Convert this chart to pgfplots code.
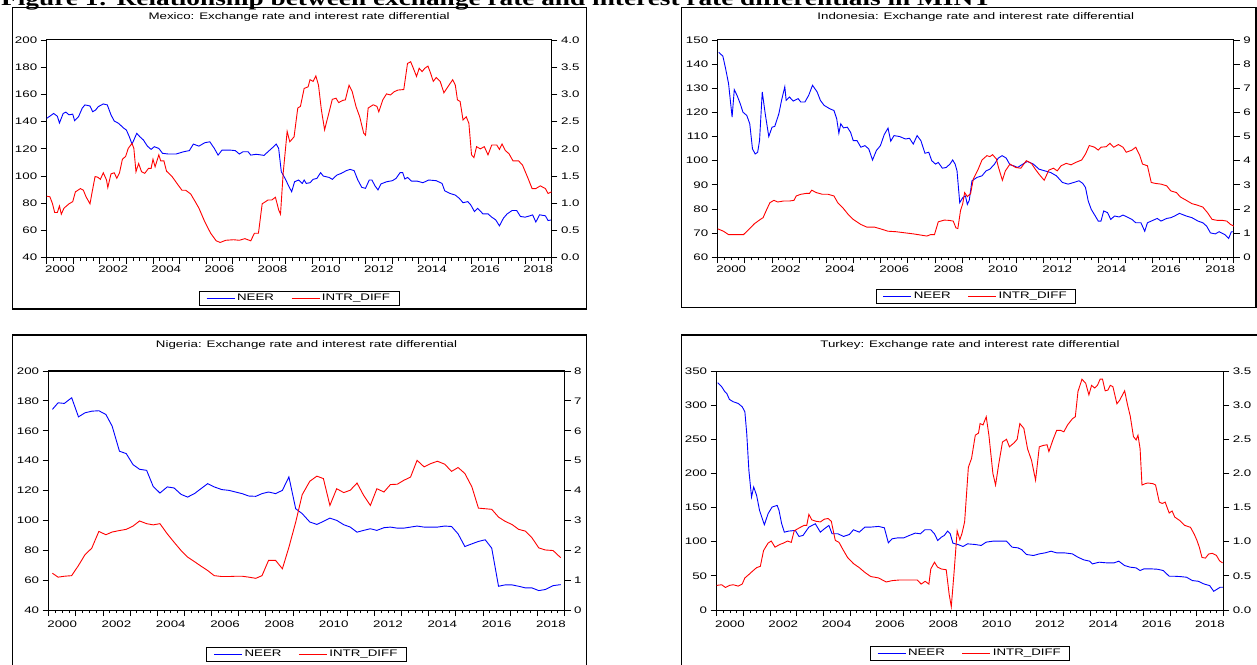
\documentclass[border=0pt]{standalone}
\usepackage{fontspec}
\setmainfont{Liberation Sans}[FakeStretch=1.4]
\newfontfamily\headfont{Liberation Serif}[FakeStretch=1.3]
\usepackage{pgfplots}
\pgfplotsset{compat=1.18}
\newcommand{\cf}{\fontsize{9.5}{11}\selectfont}
\pgfplotsset{
  evbase/.style={scale only axis, xmin=2000, xmax=2019, tick align=outside,
    axis line style={line width=1pt},
    every tick/.style={black, line width=0.8pt},
    major tick length=6pt, minor tick length=3pt,
    /pgf/number format/assume math mode=true,
    /pgf/number format/1000 sep={},
    ticklabel style={font=\cf}},
  evleft/.style={evbase, ytick pos=left, xtick pos=left,
    xtick={2000,2001,...,2019}, xticklabels={{},{},{},{},{},{},{},{},{},{},{},{},{},{},{},{},{},{},{},{}},
    minor xtick={2000,2000.25,...,2019},
    extra x ticks={2000.5,2002.5,2004.5,2006.5,2008.5,2010.5,2012.5,2014.5,2016.5,2018.5},
    extra x tick labels={2000,2002,2004,2006,2008,2010,2012,2014,2016,2018},
    extra x tick style={major tick length=0pt},
    title style={font=\cf, anchor=center, at={(0.5,1)}},
    legend style={font=\cf, anchor=north, legend columns=2, draw=black, line width=0.8pt,
      inner xsep=7pt, inner ysep=1pt,
      /tikz/every even column/.append style={column sep=15pt}},
    legend image code/.code={\draw[#1] (0pt,0pt) -- (28pt,0pt);}},
  evright/.style={evbase, axis y line*=right, axis x line=none, ytick pos=right},
  one/.style={/pgf/number format/.cd, fixed, fixed zerofill, precision=1}
}
\begin{document}
\begin{tikzpicture}
\useasboundingbox (0,0) rectangle (1257pt,664pt);
\node[anchor=base west, inner sep=0pt, font=\headfont\bfseries\fontsize{21}{24}\selectfont] at (1pt,658pt)
  {Figure 1: Relationship between exchange rate and interest rate differentials in MINT};
\draw[line width=1.1pt] (12.6pt,355pt) rectangle (586.7pt,656.7pt);
\draw[line width=1.1pt] (681.7pt,356.7pt) rectangle (1256pt,656.7pt);
\draw[line width=1.1pt] (12.6pt,-10pt) rectangle (586.7pt,329pt);
\draw[line width=1.1pt] (681.7pt,-10pt) rectangle (1270pt,329pt);

% ---------------- Mexico
\begin{axis}[evleft, at={(46.7pt,406.3pt)}, anchor=south west, width=504.8pt, height=217.7pt,
  ymin=40, ymax=200, ytick={40,60,...,200},
  title={Mexico: Exchange rate and interest rate differential}, title style={yshift=17.3pt},
  xticklabel style={yshift=-5pt},
  legend style={at={(0.5,-0.152)}}]
\addplot[blue, line width=0.9pt] coordinates {(2000.00,142.4)(2000.19,145)(2000.26,146)(2000.40,144)(2000.48,139)(2000.62,146)(2000.72,147)(2000.84,145)(2000.98,145.5)(2001.05,140.7)(2001.20,143.7)(2001.34,150)(2001.44,152.3)(2001.63,151.5)(2001.73,147.3)(2001.84,148.5)(2001.94,151)(2002.13,153)(2002.28,152.3)(2002.42,145)(2002.54,140.5)(2002.71,138.7)(2002.88,135.5)(2003.00,133.8)(2003.11,128.9)(2003.21,123.5)(2003.28,126.5)(2003.39,131.4)(2003.50,129)(2003.64,126.5)(2003.79,122)(2003.93,119.6)(2004.05,121.6)(2004.22,120.3)(2004.36,116.7)(2004.58,116.2)(2004.87,116.2)(2005.16,117.9)(2005.37,118.7)(2005.52,123.5)(2005.73,122)(2005.95,124.5)(2006.14,125.2)(2006.31,120.3)(2006.45,115.4)(2006.60,119.1)(2006.89,119.1)(2007.10,118.7)(2007.25,116.2)(2007.39,117.9)(2007.58,117.9)(2007.68,115.4)(2007.89,116)(2008.18,115.2)(2008.33,117.9)(2008.54,121.6)(2008.64,123.5)(2008.73,120.3)(2008.83,103.2)(2008.97,98.3)(2009.12,92.2)(2009.22,88.5)(2009.33,95.8)(2009.48,97.1)(2009.62,94.6)(2009.69,97.1)(2009.77,94.6)(2009.91,95.1)(2010.03,97.6)(2010.17,98.3)(2010.31,102.5)(2010.41,100)(2010.63,99)(2010.75,97.6)(2010.92,100.7)(2011.09,102)(2011.28,104)(2011.42,104.9)(2011.57,104)(2011.71,97.1)(2011.86,91.7)(2012.00,91)(2012.14,97.1)(2012.24,97.1)(2012.36,92.7)(2012.47,89.8)(2012.58,94.2)(2012.79,95.8)(2013.01,96.6)(2013.15,98.3)(2013.30,102.5)(2013.40,102.5)(2013.48,97.8)(2013.58,99)(2013.73,96.3)(2013.94,96.3)(2014.16,95.1)(2014.38,97.1)(2014.66,96.6)(2014.88,94.6)(2014.98,89.2)(2015.17,87.3)(2015.38,86)(2015.53,83.6)(2015.67,80.4)(2015.85,81.2)(2015.96,78.8)(2016.10,73.9)(2016.22,76.3)(2016.42,72.2)(2016.61,72.2)(2016.75,69.8)(2016.90,67.8)(2017.04,63.4)(2017.19,69)(2017.33,72.2)(2017.52,74.7)(2017.69,74.7)(2017.83,70.3)(2018.01,69.8)(2018.19,70.8)(2018.29,71.5)(2018.41,66.2)(2018.55,71.5)(2018.77,70.8)(2018.87,67.3)(2019.00,67.8)};
\addlegendentry{NEER}
\addlegendimage{red, line width=0.9pt}\addlegendentry{INTR\_DIFF}
\end{axis}
\begin{axis}[evright, at={(46.7pt,406.3pt)}, anchor=south west, width=504.8pt, height=217.7pt,
  ymin=0, ymax=4, ytick={0,0.5,...,4}, yticklabel style={one}]
\addplot[red, line width=0.9pt] coordinates {(2000.00,1.13)(2000.12,1.12)(2000.22,0.99)(2000.30,0.83)(2000.40,0.83)(2000.48,0.95)(2000.55,0.80)(2000.65,0.91)(2000.84,0.99)(2000.98,1.03)(2001.08,1.21)(2001.27,1.27)(2001.38,1.24)(2001.48,1.12)(2001.63,0.99)(2001.70,1.18)(2001.82,1.49)(2001.92,1.48)(2002.02,1.44)(2002.13,1.56)(2002.25,1.43)(2002.30,1.29)(2002.42,1.54)(2002.54,1.56)(2002.64,1.46)(2002.74,1.56)(2002.85,1.81)(2002.97,1.86)(2003.07,2.01)(2003.21,2.10)(2003.28,2.01)(2003.36,1.58)(2003.46,1.73)(2003.57,1.58)(2003.69,1.55)(2003.83,1.64)(2003.93,1.64)(2004.00,1.81)(2004.08,1.67)(2004.22,1.89)(2004.29,1.78)(2004.41,1.78)(2004.51,1.59)(2004.72,1.49)(2004.94,1.34)(2005.09,1.24)(2005.23,1.24)(2005.42,1.17)(2005.59,1.03)(2005.73,0.91)(2005.95,0.66)(2006.17,0.45)(2006.38,0.31)(2006.53,0.28)(2006.74,0.32)(2007.03,0.33)(2007.25,0.32)(2007.46,0.35)(2007.68,0.31)(2007.82,0.45)(2007.97,0.45)(2008.11,0.99)(2008.33,1.06)(2008.47,1.06)(2008.61,1.11)(2008.73,0.88)(2008.80,0.80)(2008.90,1.55)(2009.05,2.32)(2009.15,2.13)(2009.31,2.22)(2009.45,2.75)(2009.55,2.78)(2009.69,3.11)(2009.84,3.14)(2009.91,3.27)(2010.03,3.24)(2010.13,3.34)(2010.23,3.17)(2010.34,2.71)(2010.46,2.35)(2010.60,2.62)(2010.75,2.91)(2010.89,2.93)(2010.99,2.85)(2011.14,2.89)(2011.24,2.90)(2011.38,3.17)(2011.50,3.05)(2011.64,2.78)(2011.78,2.59)(2011.93,2.29)(2012.00,2.25)(2012.10,2.75)(2012.29,2.81)(2012.43,2.78)(2012.50,2.68)(2012.65,2.90)(2012.79,3.01)(2012.94,2.99)(2013.08,3.05)(2013.22,3.08)(2013.44,3.09)(2013.58,3.57)(2013.70,3.60)(2013.80,3.48)(2013.92,3.33)(2014.02,3.48)(2014.13,3.42)(2014.23,3.48)(2014.35,3.52)(2014.45,3.39)(2014.55,3.24)(2014.66,3.31)(2014.81,3.24)(2014.95,3.03)(2015.10,3.14)(2015.28,3.27)(2015.38,3.17)(2015.46,2.90)(2015.56,2.87)(2015.67,2.53)(2015.79,2.59)(2015.89,2.47)(2015.99,1.89)(2016.08,1.84)(2016.18,2.04)(2016.32,2.00)(2016.47,2.04)(2016.61,1.89)(2016.75,2.07)(2016.94,2.07)(2017.04,1.99)(2017.14,2.09)(2017.26,1.97)(2017.40,1.91)(2017.55,1.78)(2017.76,1.78)(2017.91,1.70)(2018.09,1.49)(2018.27,1.27)(2018.41,1.27)(2018.58,1.32)(2018.77,1.27)(2018.87,1.18)(2019.00,1.21)};
\end{axis}

% ---------------- Indonesia
\begin{axis}[evleft, at={(717.7pt,406.7pt)}, anchor=south west, width=516.1pt, height=217.3pt,
  ymin=60, ymax=150, ytick={60,70,...,150},
  title={Indonesia: Exchange rate and interest rate differential}, title style={yshift=17.3pt},
  xticklabel style={yshift=-5pt},
  legend style={at={(0.5,-0.146)}}]
\addplot[blue, line width=0.9pt] coordinates {(2000.04,144.9)(2000.19,143.3)(2000.29,138.2)(2000.40,131.9)(2000.53,118.1)(2000.61,129.4)(2000.71,127.1)(2000.83,123.6)(2000.93,120.1)(2001.07,118.75)(2001.18,115.3)(2001.28,104.9)(2001.38,102.8)(2001.47,103.5)(2001.54,108.3)(2001.64,128.5)(2001.75,119.4)(2001.88,110)(2002.00,113.9)(2002.10,114.2)(2002.25,119.4)(2002.35,125)(2002.47,130.6)(2002.52,125)(2002.64,126.4)(2002.78,124.7)(2002.96,125.7)(2003.06,124.3)(2003.21,124.3)(2003.35,127.1)(2003.49,131.25)(2003.66,128.5)(2003.78,125)(2003.92,122.9)(2004.13,121.5)(2004.28,120.8)(2004.38,117.4)(2004.46,111.4)(2004.53,115.3)(2004.63,113.6)(2004.77,113.9)(2004.89,111.8)(2004.99,108.3)(2005.13,108.3)(2005.27,105.6)(2005.42,106.25)(2005.56,104.9)(2005.70,100.3)(2005.84,104.2)(2005.99,106.25)(2006.13,110.8)(2006.27,113.5)(2006.37,108.1)(2006.49,110.4)(2006.70,110)(2006.91,109)(2007.06,109.3)(2007.20,106.9)(2007.34,110.4)(2007.48,108.3)(2007.63,103.1)(2007.77,103.5)(2007.88,100)(2008.02,98.6)(2008.12,99.3)(2008.27,96.9)(2008.41,97.2)(2008.55,98.6)(2008.65,100.3)(2008.74,98.6)(2008.81,95.8)(2008.91,82.6)(2009.02,84.7)(2009.12,85.4)(2009.19,81.9)(2009.26,83.6)(2009.36,91.7)(2009.55,93.1)(2009.73,93.75)(2009.88,95.8)(2010.02,96.5)(2010.19,98.6)(2010.33,101.1)(2010.47,102.1)(2010.62,101.1)(2010.76,98.3)(2010.90,97.9)(2011.04,97.2)(2011.19,98.3)(2011.40,99.7)(2011.62,98.6)(2011.83,96.5)(2012.04,95.8)(2012.26,95.1)(2012.47,93.75)(2012.69,91)(2012.90,90.3)(2013.11,91)(2013.30,91.7)(2013.44,90.6)(2013.54,88.9)(2013.64,83.3)(2013.75,79.9)(2013.90,77.1)(2014.01,75)(2014.11,75)(2014.21,79.2)(2014.35,78.5)(2014.47,75.7)(2014.61,77.1)(2014.78,76.7)(2014.92,77.5)(2015.07,76.7)(2015.25,75.7)(2015.39,74.3)(2015.58,74.3)(2015.72,70.8)(2015.82,74.3)(2015.96,75)(2016.18,76.1)(2016.32,75)(2016.53,76.1)(2016.68,76.4)(2016.82,77.1)(2017.00,78.2)(2017.25,77.1)(2017.46,76.4)(2017.68,75)(2017.86,74.3)(2018.00,72.9)(2018.14,70.1)(2018.32,69.7)(2018.46,70.6)(2018.67,69.4)(2018.81,67.8)(2018.91,70.6)(2019.00,70.6)};
\addlegendentry{NEER}
\addlegendimage{red, line width=0.9pt}\addlegendentry{INTR\_DIFF}
\end{axis}
\begin{axis}[evright, at={(717.7pt,406.7pt)}, anchor=south west, width=516.1pt, height=217.3pt,
  ymin=0, ymax=9, ytick={0,1,...,9}]
\addplot[red, line width=0.9pt] coordinates {(2000.00,1.18)(2000.21,1.08)(2000.40,0.94)(2000.57,0.94)(2000.78,0.94)(2000.95,0.94)(2001.14,1.15)(2001.35,1.39)(2001.57,1.57)(2001.67,1.64)(2001.78,1.92)(2001.92,2.26)(2002.07,2.36)(2002.21,2.29)(2002.42,2.33)(2002.64,2.33)(2002.81,2.36)(2002.89,2.54)(2003.06,2.61)(2003.28,2.65)(2003.38,2.65)(2003.46,2.78)(2003.63,2.68)(2003.85,2.61)(2004.06,2.61)(2004.28,2.54)(2004.42,2.26)(2004.60,2.06)(2004.80,1.78)(2004.99,1.57)(2005.27,1.36)(2005.49,1.25)(2005.63,1.25)(2005.77,1.25)(2005.99,1.18)(2006.27,1.08)(2006.56,1.06)(2006.91,1.01)(2007.20,0.97)(2007.48,0.92)(2007.70,0.88)(2007.84,0.94)(2007.98,0.94)(2008.12,1.47)(2008.34,1.54)(2008.51,1.53)(2008.67,1.50)(2008.77,1.22)(2008.84,1.19)(2008.94,1.94)(2009.02,2.22)(2009.09,2.68)(2009.19,2.51)(2009.31,2.64)(2009.41,3.24)(2009.59,3.65)(2009.73,4.03)(2009.91,4.21)(2010.02,4.17)(2010.12,4.25)(2010.26,4.07)(2010.33,3.75)(2010.48,3.19)(2010.59,3.58)(2010.76,3.86)(2010.97,3.72)(2011.16,3.69)(2011.36,4.00)(2011.55,3.89)(2011.69,3.65)(2011.83,3.44)(2012.02,3.19)(2012.19,3.61)(2012.36,3.69)(2012.50,3.58)(2012.64,3.79)(2012.83,3.89)(2013.01,3.83)(2013.18,3.93)(2013.40,4.03)(2013.54,4.28)(2013.68,4.63)(2013.87,4.56)(2014.01,4.44)(2014.11,4.56)(2014.30,4.58)(2014.44,4.72)(2014.58,4.56)(2014.75,4.67)(2014.92,4.56)(2015.04,4.35)(2015.25,4.44)(2015.39,4.56)(2015.54,4.21)(2015.64,3.86)(2015.82,3.79)(2015.96,3.10)(2016.11,3.06)(2016.32,3.03)(2016.53,2.96)(2016.68,2.75)(2016.89,2.68)(2017.03,2.50)(2017.25,2.36)(2017.46,2.22)(2017.63,2.17)(2017.86,2.08)(2018.03,1.85)(2018.20,1.57)(2018.39,1.53)(2018.57,1.53)(2018.74,1.50)(2018.88,1.36)(2019.00,1.29)};
\end{axis}

% ---------------- Nigeria
\begin{axis}[evleft, at={(48.6pt,54pt)}, anchor=south west, width=515.9pt, height=239pt,
  ymin=40, ymax=200, ytick={40,60,...,200},
  title={Nigeria: Exchange rate and interest rate differential}, title style={yshift=19.5pt},
  xticklabel style={yshift=-7pt},
  legend style={at={(0.5,-0.154)}}]
\addplot[blue, line width=0.9pt] coordinates {(2000.14,174.3)(2000.35,178.7)(2000.58,178.3)(2000.85,182.1)(2001.10,169.3)(2001.34,172)(2001.59,173.1)(2001.85,173.4)(2002.11,170.9)(2002.34,163.1)(2002.61,146.3)(2002.86,144.7)(2003.11,137.3)(2003.35,134.2)(2003.61,133.5)(2003.85,122.8)(2004.10,118.3)(2004.37,122.4)(2004.62,121.7)(2004.88,117.4)(2005.12,115.6)(2005.37,117.9)(2005.61,121.2)(2005.86,124.6)(2006.10,122.4)(2006.38,120.6)(2006.64,120.1)(2006.88,119)(2007.13,117.9)(2007.37,116.3)(2007.63,116.1)(2007.86,117.9)(2008.10,119)(2008.36,117.9)(2008.61,120.1)(2008.85,129.1)(2009.10,107.8)(2009.34,104.5)(2009.62,98.9)(2009.88,97.3)(2010.12,99.3)(2010.36,101.5)(2010.61,100)(2010.87,97.1)(2011.11,95.5)(2011.36,92.1)(2011.60,93.3)(2011.85,94.4)(2012.09,93.3)(2012.35,95.1)(2012.59,95.5)(2012.84,94.8)(2013.08,94.8)(2013.33,95.5)(2013.57,96.2)(2013.83,95.5)(2014.07,95.5)(2014.32,95.5)(2014.59,96.2)(2014.84,95.9)(2015.08,91)(2015.33,82.5)(2015.59,84.3)(2015.83,85.9)(2016.08,87)(2016.32,81.4)(2016.57,55.9)(2016.81,56.8)(2017.07,56.8)(2017.31,55.9)(2017.56,54.8)(2017.80,54.8)(2018.05,53)(2018.29,53.7)(2018.58,56.3)(2018.86,57)};
\addlegendentry{NEER}
\addlegendimage{red, line width=0.9pt}\addlegendentry{INTR\_DIFF}
\end{axis}
\begin{axis}[evright, at={(48.6pt,54pt)}, anchor=south west, width=515.9pt, height=239pt,
  ymin=0, ymax=8, ytick={0,1,...,8}]
\addplot[red, line width=0.9pt] coordinates {(2000.14,1.23)(2000.35,1.10)(2000.58,1.13)(2000.85,1.15)(2001.10,1.49)(2001.34,1.85)(2001.59,2.07)(2001.85,2.63)(2002.11,2.52)(2002.34,2.61)(2002.61,2.66)(2002.86,2.70)(2003.11,2.81)(2003.35,2.98)(2003.61,2.89)(2003.85,2.85)(2004.10,2.89)(2004.37,2.55)(2004.62,2.27)(2004.88,1.99)(2005.12,1.77)(2005.37,1.62)(2005.61,1.47)(2005.86,1.32)(2006.10,1.15)(2006.38,1.12)(2006.64,1.12)(2006.88,1.13)(2007.13,1.13)(2007.37,1.10)(2007.63,1.06)(2007.86,1.15)(2008.10,1.66)(2008.36,1.66)(2008.61,1.38)(2008.85,2.10)(2009.10,2.94)(2009.34,3.86)(2009.62,4.31)(2009.88,4.48)(2010.12,4.40)(2010.36,3.50)(2010.61,4.06)(2010.87,3.93)(2011.11,4.01)(2011.36,4.25)(2011.60,3.84)(2011.85,3.50)(2012.09,4.06)(2012.35,3.95)(2012.59,4.20)(2012.84,4.21)(2013.08,4.34)(2013.33,4.45)(2013.57,5.01)(2013.83,4.79)(2014.07,4.90)(2014.32,4.98)(2014.59,4.88)(2014.84,4.64)(2015.08,4.77)(2015.33,4.57)(2015.59,4.12)(2015.83,3.41)(2016.08,3.39)(2016.32,3.37)(2016.57,3.11)(2016.81,2.97)(2017.07,2.86)(2017.31,2.70)(2017.56,2.64)(2017.80,2.42)(2018.05,2.08)(2018.29,2.01)(2018.58,1.99)(2018.86,1.75)};
\end{axis}

% ---------------- Turkey
\begin{axis}[evleft, at={(716.6pt,54pt)}, anchor=south west, width=506.7pt, height=239pt,
  ymin=0, ymax=350, ytick={0,50,...,350},
  title={Turkey: Exchange rate and interest rate differential}, title style={yshift=19.5pt},
  xticklabel style={yshift=-7pt},
  legend style={at={(0.5,-0.149)}}]
\addplot[blue, line width=0.9pt] coordinates {(2000.04,332.8)(2000.19,327)(2000.31,319.6)(2000.38,317.2)(2000.48,308.4)(2000.62,305)(2000.81,302.5)(2000.96,297.6)(2001.06,290.3)(2001.13,258.4)(2001.21,204.6)(2001.31,165.4)(2001.39,180.1)(2001.50,167.9)(2001.61,145.9)(2001.79,124.8)(2001.93,141)(2002.08,150.8)(2002.27,153.2)(2002.34,145.9)(2002.44,126.3)(2002.54,114)(2002.69,115.5)(2002.95,116.5)(2003.09,107.7)(2003.24,109.2)(2003.46,121.4)(2003.70,126.3)(2003.89,114)(2004.04,118.9)(2004.21,123.8)(2004.33,111.6)(2004.55,111.6)(2004.76,107.7)(2004.98,110.6)(2005.13,117.5)(2005.35,114)(2005.56,121.4)(2005.78,121.4)(2006.07,122.4)(2006.29,120.4)(2006.44,98.4)(2006.58,104.3)(2006.80,105.7)(2007.02,105.7)(2007.23,109.2)(2007.45,112.6)(2007.64,111.6)(2007.81,117.5)(2008.03,117.5)(2008.17,111.6)(2008.29,101.8)(2008.43,106.7)(2008.54,109.2)(2008.66,115.5)(2008.76,111.6)(2008.86,97.9)(2009.05,95.9)(2009.24,93)(2009.41,96.9)(2009.70,95.9)(2009.92,94.5)(2010.11,99.4)(2010.36,100.8)(2010.65,100.8)(2010.87,100.8)(2011.08,92)(2011.30,91)(2011.45,88.1)(2011.62,81.3)(2011.88,79.8)(2012.10,82.2)(2012.32,83.7)(2012.54,86.1)(2012.75,83.7)(2013.04,83.7)(2013.34,82.2)(2013.55,77.3)(2013.77,73.4)(2013.99,71.5)(2014.09,67.5)(2014.35,70)(2014.64,69)(2014.90,69)(2015.08,71.5)(2015.30,65.1)(2015.51,62.7)(2015.73,61.7)(2015.88,57.8)(2016.02,60.2)(2016.31,60.2)(2016.53,59.7)(2016.75,57.8)(2016.97,49.4)(2017.18,49.4)(2017.40,48.9)(2017.62,48)(2017.84,43.1)(2018.06,42.1)(2018.27,38.2)(2018.49,35.7)(2018.64,27.4)(2018.78,30.8)(2018.88,33.3)(2019.00,33.3)};
\addlegendentry{NEER}
\addlegendimage{red, line width=0.9pt}\addlegendentry{INTR\_DIFF}
\end{axis}
\begin{axis}[evright, at={(716.6pt,54pt)}, anchor=south west, width=506.7pt, height=239pt,
  ymin=0, ymax=3.5, ytick={0,0.5,...,3.5}, yticklabel style={one}]
\addplot[red, line width=0.9pt] coordinates {(2000.00,0.36)(2000.19,0.37)(2000.33,0.33)(2000.48,0.36)(2000.62,0.37)(2000.81,0.35)(2000.96,0.38)(2001.06,0.47)(2001.21,0.52)(2001.35,0.57)(2001.50,0.62)(2001.64,0.64)(2001.76,0.87)(2001.93,0.98)(2002.05,1.01)(2002.19,0.92)(2002.37,0.96)(2002.51,0.98)(2002.66,1.01)(2002.80,0.99)(2002.91,1.16)(2003.09,1.20)(2003.28,1.24)(2003.38,1.24)(2003.46,1.40)(2003.57,1.32)(2003.72,1.30)(2003.89,1.29)(2004.04,1.33)(2004.18,1.34)(2004.30,1.30)(2004.45,1.02)(2004.59,0.99)(2004.76,0.87)(2004.91,0.77)(2005.13,0.68)(2005.35,0.62)(2005.56,0.55)(2005.78,0.49)(2006.07,0.47)(2006.36,0.41)(2006.58,0.43)(2006.87,0.44)(2007.16,0.44)(2007.52,0.44)(2007.67,0.38)(2007.82,0.42)(2007.96,0.38)(2008.03,0.60)(2008.17,0.70)(2008.28,0.63)(2008.43,0.60)(2008.61,0.59)(2008.72,0.23)(2008.80,0.05)(2008.90,0.53)(2009.02,1.16)(2009.12,1.03)(2009.20,1.12)(2009.30,1.29)(2009.44,2.09)(2009.56,2.22)(2009.70,2.56)(2009.82,2.59)(2009.88,2.73)(2009.99,2.71)(2010.11,2.83)(2010.21,2.56)(2010.36,2.00)(2010.46,1.83)(2010.58,2.14)(2010.72,2.46)(2010.87,2.50)(2010.98,2.39)(2011.16,2.45)(2011.27,2.50)(2011.37,2.73)(2011.52,2.66)(2011.66,2.36)(2011.81,2.19)(2011.96,1.90)(2012.10,2.39)(2012.25,2.41)(2012.39,2.42)(2012.46,2.32)(2012.61,2.49)(2012.75,2.63)(2012.90,2.63)(2013.02,2.61)(2013.16,2.71)(2013.34,2.80)(2013.45,2.83)(2013.55,3.20)(2013.70,3.38)(2013.84,3.32)(2013.96,3.15)(2014.06,3.29)(2014.18,3.25)(2014.28,3.29)(2014.38,3.38)(2014.47,3.38)(2014.57,3.21)(2014.67,3.22)(2014.76,3.29)(2014.86,3.27)(2015.01,3.02)(2015.11,3.07)(2015.30,3.21)(2015.40,3.02)(2015.51,2.84)(2015.63,2.54)(2015.73,2.49)(2015.80,2.56)(2015.88,2.36)(2015.95,1.83)(2016.07,1.85)(2016.17,1.86)(2016.36,1.85)(2016.46,1.83)(2016.60,1.58)(2016.71,1.56)(2016.82,1.58)(2016.97,1.42)(2017.08,1.45)(2017.18,1.36)(2017.37,1.31)(2017.55,1.24)(2017.77,1.21)(2017.91,1.11)(2018.01,1.02)(2018.10,0.92)(2018.20,0.77)(2018.33,0.76)(2018.45,0.82)(2018.59,0.83)(2018.74,0.80)(2018.86,0.72)(2018.97,0.69)};
\end{axis}
\end{tikzpicture}
\end{document}
